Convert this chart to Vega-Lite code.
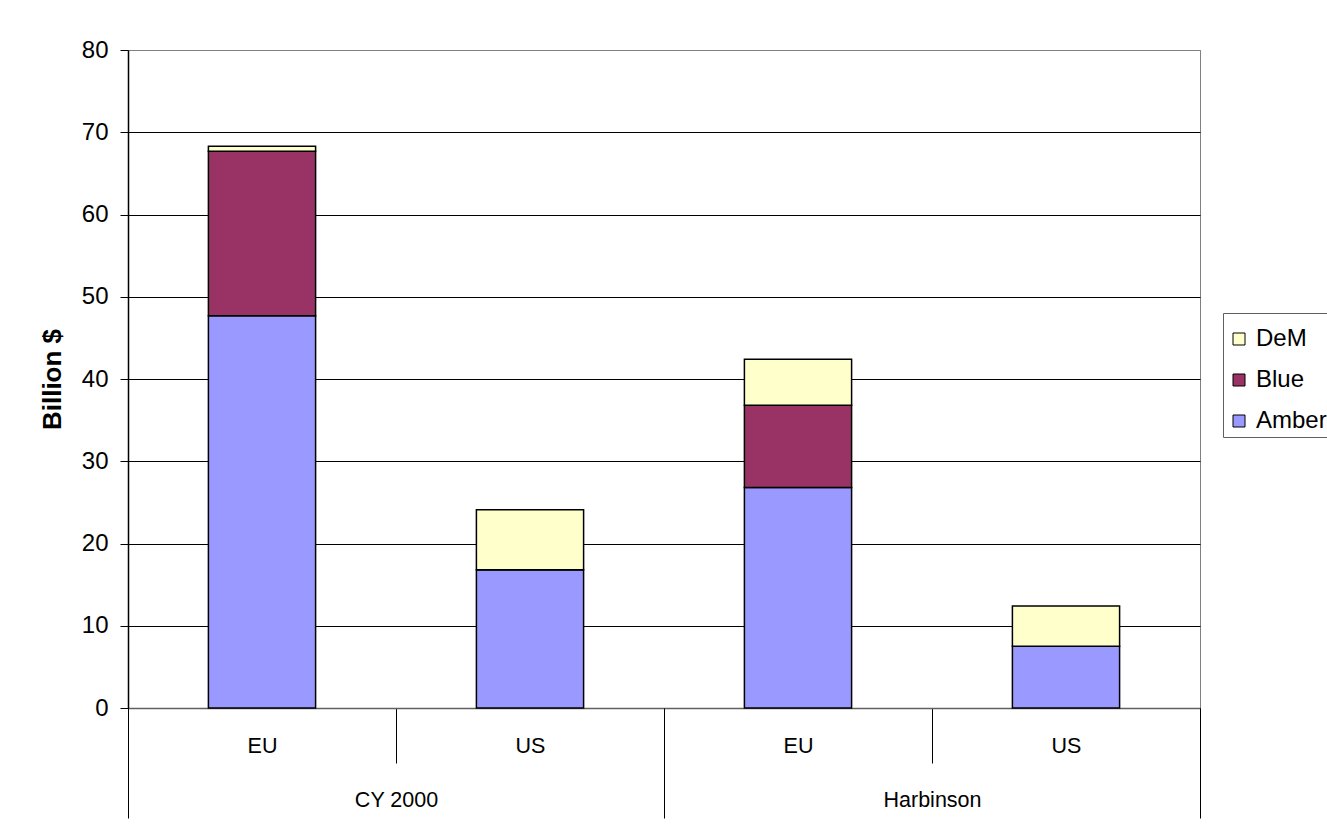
{
  "$schema": "https://vega.github.io/schema/vega-lite/v6.json",
  "width": 1072,
  "height": 658,
  "autosize": {"type": "none"},
  "padding": {"left": 128, "top": 50, "right": 127, "bottom": 130},
  "background": "white",
  "config": {
    "font": "Liberation Sans",
    "view": {"stroke": "#808080", "strokeWidth": 1}
  },
  "data": {
    "values": [
      {"group": "CY 2000", "region": "EU", "key": "CY 2000|EU", "series": "Amber", "value": 47.7},
      {"group": "CY 2000", "region": "EU", "key": "CY 2000|EU", "series": "Blue", "value": 20.0},
      {"group": "CY 2000", "region": "EU", "key": "CY 2000|EU", "series": "DeM", "value": 0.6},
      {"group": "CY 2000", "region": "US", "key": "CY 2000|US", "series": "Amber", "value": 16.8},
      {"group": "CY 2000", "region": "US", "key": "CY 2000|US", "series": "Blue", "value": 0},
      {"group": "CY 2000", "region": "US", "key": "CY 2000|US", "series": "DeM", "value": 7.3},
      {"group": "Harbinson", "region": "EU", "key": "Harbinson|EU", "series": "Amber", "value": 26.8},
      {"group": "Harbinson", "region": "EU", "key": "Harbinson|EU", "series": "Blue", "value": 10.0},
      {"group": "Harbinson", "region": "EU", "key": "Harbinson|EU", "series": "DeM", "value": 5.6},
      {"group": "Harbinson", "region": "US", "key": "Harbinson|US", "series": "Amber", "value": 7.5},
      {"group": "Harbinson", "region": "US", "key": "Harbinson|US", "series": "Blue", "value": 0},
      {"group": "Harbinson", "region": "US", "key": "Harbinson|US", "series": "DeM", "value": 4.9}
    ]
  },
  "layer": [
    {
      "mark": {"type": "bar", "stroke": "black", "strokeWidth": 1.5, "width": {"band": 0.4}},
      "encoding": {
        "x": {
          "field": "key",
          "type": "nominal",
          "sort": null,
          "scale": {"paddingInner": 0, "paddingOuter": 0},
          "axis": {
            "orient": "bottom",
            "title": null,
            "labelExpr": "split(datum.label, '|')[1]",
            "labelAngle": 0,
            "labelFontSize": 21.5,
            "labelColor": "black",
            "labelPadding": -28,
            "tickBand": "extent",
            "tickSize": 55,
            "tickColor": "black",
            "tickWidth": 1,
            "domainColor": "#606060",
            "domainWidth": 1.5
          }
        },
        "y": {
          "field": "value",
          "type": "quantitative",
          "stack": "zero",
          "scale": {"domain": [0, 80], "nice": false},
          "axis": {
            "values": [0, 10, 20, 30, 40, 50, 60, 70, 80],
            "title": "Billion $",
            "titleFontSize": 26,
            "titleFontWeight": "bold",
            "titleColor": "black",
            "titlePadding": 16,
            "labelFontSize": 24,
            "labelColor": "black",
            "labelPadding": 12,
            "tickSize": 8,
            "tickColor": "black",
            "domainColor": "black",
            "domainWidth": 1.5,
            "grid": true,
            "gridColor": {"condition": {"test": "datum.value === 80", "value": "#808080"}, "value": "black"},
            "gridOpacity": 1,
            "gridWidth": 1
          }
        },
        "color": {
          "field": "series",
          "type": "nominal",
          "scale": {"domain": ["DeM", "Blue", "Amber"], "range": ["#FFFFCC", "#993366", "#9999FF"]},
          "legend": {
            "title": " ",
            "titleFontSize": 8,
            "titlePadding": 2,
            "orient": "none",
            "legendX": 1095,
            "legendY": 263,
            "direction": "vertical",
            "symbolType": "square",
            "symbolSize": 144,
            "symbolStrokeColor": "black",
            "symbolStrokeWidth": 1,
            "labelFontSize": 24,
            "labelColor": "black",
            "labelOffset": 5,
            "rowPadding": 17,
            "padding": 4,
            "strokeColor": "#606060",
            "fillColor": "white"
          }
        },
        "order": {"field": "series", "sort": "ascending"}
      }
    },
    {
      "mark": {"type": "point", "opacity": 0},
      "encoding": {
        "x": {
          "field": "group",
          "type": "nominal",
          "sort": null,
          "scale": {"paddingInner": 0, "paddingOuter": 0},
          "axis": {
            "orient": "bottom",
            "title": null,
            "labelAngle": 0,
            "labelFontSize": 21.5,
            "labelColor": "black",
            "labelPadding": -29,
            "tickBand": "extent",
            "tickSize": 110,
            "tickColor": "black",
            "tickWidth": 1,
            "domain": false
          }
        }
      }
    }
  ],
  "resolve": {"scale": {"x": "independent"}, "axis": {"x": "independent"}}
}
